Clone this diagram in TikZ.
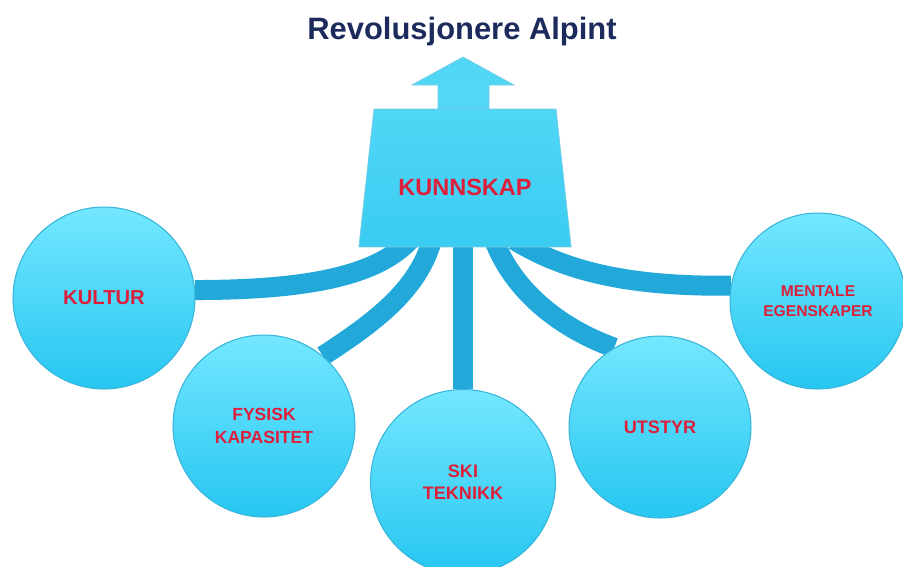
\documentclass[tikz,border=0pt]{standalone}
\usepackage{fontspec}
\setmainfont{Liberation Sans}
\usetikzlibrary{shapes.geometric,backgrounds}

\definecolor{cyanTop}{HTML}{74E7FF}
\definecolor{cyanBot}{HTML}{26C6F1}
\definecolor{cyanEdge}{HTML}{38B5D9}
\definecolor{trapTop}{HTML}{50D6F6}
\definecolor{trapMid}{HTML}{6FE5FD}
\definecolor{trapBot}{HTML}{3BCCF2}
\definecolor{bandBlue}{HTML}{23A8DA}
\definecolor{redText}{HTML}{DC1F3A}
\definecolor{navyText}{HTML}{1C2B5C}

\begin{document}
\begin{tikzpicture}[
  x=0.02cm, y=-0.02cm,
  bubble/.style={circle, draw=cyanEdge, line width=0.6pt, top color=cyanTop, bottom color=cyanBot,
    minimum size=3.64cm, inner sep=0pt, align=center, text=redText},
  weight/.style={trapezium, trapezium angle=75.6, trapezium stretches=true,
    minimum width=4.28cm, minimum height=2.76cm, draw=cyanEdge!70, line width=0.4pt,
    top color=trapTop, middle color=trapMid, bottom color=trapBot, text=redText},
  band/.style={draw=bandBlue, line width=0.4cm},
  bigarrow/.style={draw=cyanEdge!70, line width=0.4pt, top color=trapTop, bottom color=trapTop!90!trapMid}
]
\useasboundingbox (0,0) rectangle (903,566);

% Title
\node[anchor=base, text=navyText, font=\fontsize{17.6}{21}\selectfont\bfseries] (tittel) at (462,39) {Revolusjonere Alpint};

% Knowledge block with arrow
\draw[bigarrow] (438,109) -- (438,85) -- (412,85) -- (463,57) -- (514,85) -- (489,85) -- (489,109) -- cycle;
\node[weight, text height=0.7cm, font=\fontsize{13.4}{16}\selectfont\bfseries] (kunnskap) at (465,178) {KUNNSKAP};

% Factors
\node[bubble, font=\fontsize{11.5}{14}\selectfont\bfseries] (kultur) at (104,298) {KULTUR};
\node[bubble, font=\fontsize{10}{13}\selectfont\bfseries] (fysisk) at (264,426) {FYSISK\\KAPASITET};
\node[bubble, minimum size=3.7cm, font=\fontsize{10.3}{12.6}\selectfont\bfseries] (ski) at (463,482) {SKI\\TEKNIKK};
\node[bubble, font=\fontsize{10.3}{13}\selectfont\bfseries] (utstyr) at (660,427) {UTSTYR};
\node[bubble, minimum size=3.52cm, font=\fontsize{8.9}{11.5}\selectfont\bfseries] (mentale) at (818,301) {MENTALE\\EGENSKAPER};

% Roots under the block
\coordinate (k1) at (410,240);
\coordinate (k2) at (432,240);
\coordinate (k3) at (463,240);
\coordinate (k4) at (494,240);
\coordinate (k5) at (514,240);

\begin{pgfonlayer}{background}
\draw[band] (kultur.5) .. controls (320,290) and (380,272) .. (k1);
\draw[band] (fysisk.50) .. controls (375,322) and (418,290) .. (k2);
\draw[band] (k3) -- (ski);
\draw[band] (k4) .. controls (515,295) and (565,330) .. (utstyr.120);
\draw[band] (k5) .. controls (560,268) and (620,287) .. (mentale.170);
\end{pgfonlayer}

\end{tikzpicture}
\end{document}
